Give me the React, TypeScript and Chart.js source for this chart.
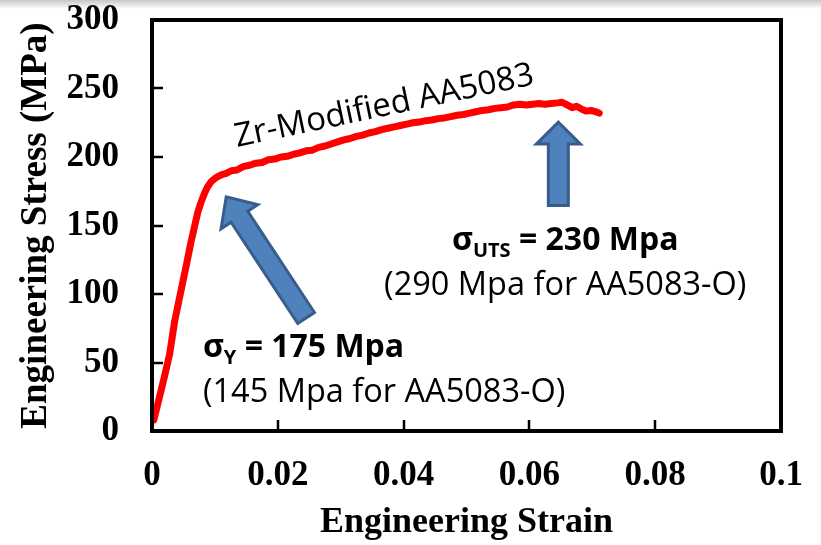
import React, { useEffect, useRef } from 'react';
import { Chart, registerables } from 'chart.js';

Chart.register(...registerables);

// ---- data ----
const strain = [
  0.0003, 0.0012, 0.002, 0.0028, 0.0036, 0.0045, 0.0055, 0.0062, 0.0068, 0.0073,
  0.0078, 0.0083, 0.0088, 0.0094, 0.0102, 0.011, 0.0118, 0.0126, 0.0135, 0.0145,
  0.0155, 0.0165, 0.0175, 0.0185, 0.0195, 0.0205, 0.0215, 0.0225, 0.0235, 0.0245,
  0.0255, 0.0265, 0.0275, 0.0285, 0.0295, 0.0305, 0.0315, 0.0325, 0.0335, 0.0345,
  0.0355, 0.0365, 0.0375, 0.0385, 0.0395, 0.0405, 0.0415, 0.0425, 0.0435, 0.0445,
  0.0455, 0.0465, 0.0475, 0.0485, 0.0495, 0.0505, 0.0515, 0.0525, 0.0535, 0.0545,
  0.0555, 0.0565, 0.0575, 0.0585, 0.0595, 0.0605, 0.0615, 0.0625, 0.0635, 0.0645,
  0.0652, 0.066, 0.0668, 0.0675, 0.0683, 0.069, 0.0698, 0.0706, 0.0711,
];
const stress = [
  8, 25, 40, 56, 80, 100, 122, 138, 150, 160,
  167, 173, 178, 182, 185, 187, 188, 190, 190.5, 193,
  194, 195.5, 196, 198, 198.5, 200, 200.5, 202, 203, 204.5,
  205, 207, 208, 209.5, 211, 212.5, 213.5, 215, 216, 217.5,
  218.5, 220, 221, 222, 223, 224, 225, 225.5, 226.5, 227,
  228, 228.5, 229.5, 230.5, 231, 232, 233, 234, 234.5, 235.5,
  236, 236.5, 238, 238.5, 238, 238.5, 239, 238.5, 239, 239.5,
  240, 238, 236, 237, 235, 233.5, 234, 233, 232,
];
const xTickLabels = ['0', '0.02', '0.04', '0.06', '0.08', '0.1'];
const yTickLabels = ['0', '50', '100', '150', '200', '250', '300'];
const xTitle = 'Engineering Strain';
const yTitle = 'Engineering Stress (MPa)';
const curveLabel = 'Zr-Modified AA5083';
const sigma = 'σ';
const yieldSub = 'Y';
const yieldValue = ' = 175 Mpa';
const yieldNote = '(145 Mpa for AA5083-O)';
const utsSub = 'UTS';
const utsValue = ' = 230 Mpa';
const utsNote = '(290 Mpa for AA5083-O)';

// ---- annotation anchors (data coordinates) ----
const curveLabelAnchor = { x: 0.01352, y: 207.3, angleDeg: -11.9 };
const yieldArrow = { tipX: 0.0118, tipY: 171, tailX: 0.0245, tailY: 82.5 };
const utsArrow = { tipX: 0.0646, tipY: 225.5, tailX: 0.0646, tailY: 164.6 };
const yieldText = { x: 0.0081, y1: 54, y2: 21 };
const utsText = { x: 0.0657, y1: 132, y2: 99 };

const SERIF = "'Liberation Serif', 'Times New Roman', serif";
const SANS = "'Open Sans', 'Noto Sans', sans-serif";

function blockArrow(ctx: CanvasRenderingContext2D, x0: number, y0: number, x1: number, y1: number,
  shaftW: number, headW: number, headL: number) {
  const dx = x1 - x0, dy = y1 - y0;
  const len = Math.hypot(dx, dy);
  const ux = dx / len, uy = dy / len;
  const nx = -uy, ny = ux;
  const bx = x1 - ux * headL, by = y1 - uy * headL;
  const pts = [
    [x0 + nx * shaftW / 2, y0 + ny * shaftW / 2],
    [bx + nx * shaftW / 2, by + ny * shaftW / 2],
    [bx + nx * headW / 2, by + ny * headW / 2],
    [x1, y1],
    [bx - nx * headW / 2, by - ny * headW / 2],
    [bx - nx * shaftW / 2, by - ny * shaftW / 2],
    [x0 - nx * shaftW / 2, y0 - ny * shaftW / 2],
  ];
  ctx.beginPath();
  pts.forEach((p, i) => (i ? ctx.lineTo(p[0], p[1]) : ctx.moveTo(p[0], p[1])));
  ctx.closePath();
  ctx.fillStyle = '#4F81BD';
  ctx.fill();
  ctx.lineWidth = 3;
  ctx.lineJoin = 'miter';
  ctx.strokeStyle = '#385D8A';
  ctx.stroke();
}

function sigmaLine(ctx: CanvasRenderingContext2D, sub: string, rest: string, x: number, y: number, align: 'left' | 'center') {
  const big = `bold 32px ${SANS}`;
  const small = `bold 20px ${SANS}`;
  ctx.font = big;
  const w1 = ctx.measureText(sigma).width;
  const w3 = ctx.measureText(rest).width;
  ctx.font = small;
  const w2 = ctx.measureText(sub).width;
  const total = w1 + w2 + w3;
  let sx = align === 'center' ? x - total / 2 : x;
  ctx.textAlign = 'left';
  ctx.textBaseline = 'alphabetic';
  ctx.fillStyle = '#000';
  ctx.font = big;
  ctx.fillText(sigma, sx, y);
  sx += w1;
  ctx.font = small;
  ctx.fillText(sub, sx, y + 7);
  sx += w2;
  ctx.font = big;
  ctx.fillText(rest, sx, y);
}

const annotPlugin = {
  id: 'annotPlugin',
  afterDatasetsDraw(chart: any) {
    const { ctx, chartArea: ca, scales } = chart;
    const xs = scales.x, ys = scales.y;
    ctx.save();
    // inner tick marks
    ctx.strokeStyle = '#000';
    ctx.lineWidth = 2.5;
    ctx.lineCap = 'butt';
    xs.ticks.forEach((t: any) => {
      if (t.value <= xs.min || t.value >= xs.max) return;
      const px = Math.round(xs.getPixelForValue(t.value));
      ctx.beginPath();
      ctx.moveTo(px, ca.bottom);
      ctx.lineTo(px, ca.bottom - 11);
      ctx.stroke();
    });
    ys.ticks.forEach((t: any) => {
      if (t.value <= ys.min || t.value >= ys.max) return;
      const py = Math.round(ys.getPixelForValue(t.value));
      ctx.beginPath();
      ctx.moveTo(ca.left, py);
      ctx.lineTo(ca.left + 11, py);
      ctx.stroke();
    });
    // frame
    ctx.lineWidth = 4;
    ctx.lineJoin = 'miter';
    ctx.strokeRect(ca.left, ca.top, ca.right - ca.left, ca.bottom - ca.top);

    // arrows
    blockArrow(ctx, xs.getPixelForValue(yieldArrow.tailX), ys.getPixelForValue(yieldArrow.tailY),
      xs.getPixelForValue(yieldArrow.tipX), ys.getPixelForValue(yieldArrow.tipY), 20, 44, 24);
    blockArrow(ctx, xs.getPixelForValue(utsArrow.tailX), ys.getPixelForValue(utsArrow.tailY),
      xs.getPixelForValue(utsArrow.tipX), ys.getPixelForValue(utsArrow.tipY), 20, 44, 22);

    // curve label
    ctx.save();
    ctx.translate(xs.getPixelForValue(curveLabelAnchor.x), ys.getPixelForValue(curveLabelAnchor.y));
    ctx.rotate((curveLabelAnchor.angleDeg * Math.PI) / 180);
    ctx.font = `33px ${SANS}`;
    ctx.fillStyle = '#000';
    ctx.textAlign = 'left';
    ctx.textBaseline = 'alphabetic';
    ctx.fillText(curveLabel, 0, 0);
    ctx.restore();

    // yield text
    const yx = xs.getPixelForValue(yieldText.x);
    sigmaLine(ctx, yieldSub, yieldValue, yx, ys.getPixelForValue(yieldText.y1), 'left');
    ctx.font = `32.5px ${SANS}`;
    ctx.textAlign = 'left';
    ctx.fillText(yieldNote, yx, ys.getPixelForValue(yieldText.y2));

    // uts text
    const ux = xs.getPixelForValue(utsText.x);
    sigmaLine(ctx, utsSub, utsValue, ux, ys.getPixelForValue(utsText.y1), 'center');
    ctx.font = `32.5px ${SANS}`;
    ctx.textAlign = 'center';
    ctx.fillText(utsNote, ux, ys.getPixelForValue(utsText.y2));
    ctx.restore();
  },
};

export default function App() {
  const canvasRef = useRef<HTMLCanvasElement | null>(null);

  useEffect(() => {
    document.body.style.margin = '0';
    const canvas = canvasRef.current;
    if (!canvas) return;
    const points = strain.map((s, i) => ({ x: s, y: stress[i] }));
    const chart = new Chart(canvas, {
      type: 'line',
      data: {
        datasets: [
          {
            label: curveLabel,
            data: points,
            borderColor: '#FF0000',
            backgroundColor: '#FF0000',
            borderWidth: 7,
            pointRadius: 0,
            tension: 0,
            borderCapStyle: 'round',
            borderJoinStyle: 'round',
          },
        ],
      },
      options: {
        animation: false,
        responsive: true,
        maintainAspectRatio: false,
        layout: { padding: { top: 20, right: 40, left: 0, bottom: 0 } },
        plugins: { legend: { display: false }, tooltip: { enabled: false } },
        scales: {
          x: {
            type: 'linear',
            min: 0,
            max: 0.1,
            ticks: {
              stepSize: 0.02,
              padding: 27,
              color: '#000',
              font: { family: SERIF, size: 35, weight: 'bold', lineHeight: 1 },
              maxRotation: 0,
              callback: (_v: any, i: number) => xTickLabels[i],
            },
            grid: { display: false, drawTicks: false },
            border: { display: false },
            title: {
              display: true,
              text: xTitle,
              color: '#000',
              font: { family: SERIF, size: 36, weight: 'bold', lineHeight: 1 },
              padding: { top: 0, bottom: 4 },
            },
            afterFit: (s: any) => {
              s.height = 114;
              s.paddingLeft = 0;
              s.paddingRight = 0;
            },
          },
          y: {
            type: 'linear',
            min: 0,
            max: 300,
            ticks: {
              stepSize: 50,
              padding: 33,
              color: '#000',
              font: { family: SERIF, size: 35, weight: 'bold', lineHeight: 1 },
              callback: (_v: any, i: number) => yTickLabels[i],
            },
            grid: { display: false, drawTicks: false },
            border: { display: false },
            title: {
              display: true,
              text: yTitle,
              color: '#000',
              font: { family: SERIF, size: 37, weight: 'bold', lineHeight: 1 },
              padding: { top: 18, bottom: 0 },
            },
            afterFit: (s: any) => {
              s.width = 152;
              s.paddingTop = 0;
              s.paddingBottom = 0;
            },
          },
        },
      },
      plugins: [annotPlugin],
    } as any);
    return () => chart.destroy();
  }, []);

  return (
    <div style={{ position: 'absolute', left: 0, top: 0, width: 821, height: 545, background: '#fff' }}>
      <canvas ref={canvasRef} />
      <div
        style={{
          position: 'absolute', left: 0, top: 0, width: 821, height: 9,
          background: 'linear-gradient(rgba(0,0,0,0.22), rgba(0,0,0,0))',
          pointerEvents: 'none',
        }}
      />
    </div>
  );
}
